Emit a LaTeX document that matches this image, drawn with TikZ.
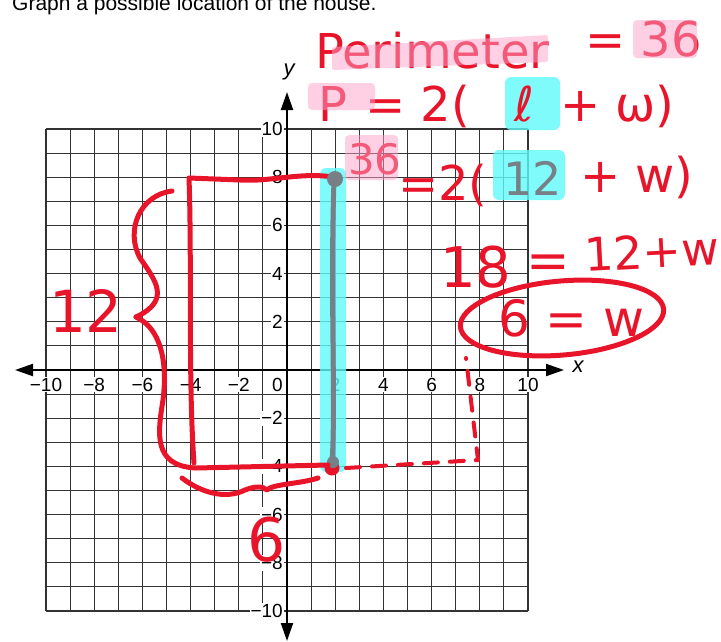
\documentclass[tikz,border=0pt]{standalone}
\usepackage{fontspec}
\setmainfont{Liberation Sans}
\newfontfamily\handfont{DejaVu Sans}
\usetikzlibrary{arrows.meta}
\definecolor{clrInk} {RGB}{232, 20, 42}
\definecolor{clrGrey}{RGB}{118,128,134}
\definecolor{clrPink}{RGB}{255,160,200}
\definecolor{clrCyan}{RGB}{ 96,250,250}
\newcommand\tlab[1]{\ifnum#1<0 −\number\numexpr-#1\relax\else#1\fi}
\newcommand\handsz[1]{\handfont\fontsize{#1}{#1}\selectfont}

\begin{document}
\begin{tikzpicture}[x=1pt, y=-1pt,
  %% ── grid / axis styles ───────────────────────────────────────────────────
  gridln/.style = {line width=1.1pt, color=black!80},
  axis/.style   = {line width=2pt,
                   {Triangle[length=18pt,width=12pt]}-{Triangle[length=18pt,width=12pt]}},
  tick/.style   = {fill=white, inner sep=1pt, font=\fontsize{19}{19}\selectfont},
  %% ── hand-drawn styles ────────────────────────────────────────────────────
  ink/.style    = {line width=5pt, color=clrInk, line cap=round, line join=round},
  inkdash/.style= {ink, line width=4pt, dash pattern=on 14pt off 12pt},
  grey/.style   = {line width=5pt, color=clrGrey, line cap=round},
  hand/.style   = {text=clrInk, inner sep=0pt, anchor=base west, font=\handsz{48}},
  hlpink/.style = {fill=clrPink, fill opacity=0.5, rounded corners=4pt},
  hlcyan/.style = {fill=clrCyan, fill opacity=0.8, rounded corners=6pt},
]
\useasboundingbox (0,0) rectangle (721,641);

%% ═══════════════════════════════════════════════════════════════════════════
%% PRINTED SHEET: title, grid, axes, tick labels
%% ═══════════════════════════════════════════════════════════════════════════
\node[anchor=base west, inner sep=0pt, font=\fontsize{21}{21}\selectfont]
     (title) at (12,10.5) {Graph a possible location of the house.};

\foreach \i in {-10,...,10} {
  \draw[gridln] ({287+24.1*\i},129) -- ({287+24.1*\i},611);
  \draw[gridln] (46,{370+24.1*\i}) -- (528,{370+24.1*\i});
}

\coordinate (xw) at (15,370);
\coordinate (xe) at (564,370);
\coordinate (yn) at (287,92);
\coordinate (ys) at (287,641);
\draw[axis] (xw) -- (xe);
\draw[axis] (ys) -- (yn);
\node[font=\itshape\fontsize{22}{22}\selectfont] (xlab) at (578,367) {x};
\node[font=\itshape\fontsize{22}{22}\selectfont] (ylab) at (289,72)  {y};

\foreach \i [count=\k] in {-10,-8,-6,-4,-2,2,4,6,8,10} {
  \node[tick, anchor=base] (xt\k) at ({287+24.1*\i},391) {\tlab{\i}};
  \node[tick, anchor=east] (yt\k) at (284,{370-24.1*\i})  {\tlab{\i}};
}
\node[tick, anchor=base east] (orig) at (284,391) {0};

%% ═══════════════════════════════════════════════════════════════════════════
%% INK: highlights behind the writing
%% ═══════════════════════════════════════════════════════════════════════════
\fill[hlcyan] (320,168) rectangle (346,472);
\fill[hlcyan] (505,77)  rectangle (560,130);
\fill[hlcyan] (493,150) rectangle (565,200);

%% ── house: side x=2 (grey), the rest in red ──────────────────────────────
\draw[ink] (333,177) .. controls (300,172) and (270,182) .. (240,180)
           -- (189,178) .. controls (192,260) and (188,380) .. (194,463);
\draw[grey] (334,180) .. controls (330,300) and (336,400) .. (332,464);
\fill[clrGrey] (335,179) circle (8);
\fill[clrInk]  (332,468) circle (7.5);
\fill[clrGrey] (333,462) circle (6);

%% ── braces: 12 along the side, 6 along the bottom ────────────────────────
\draw[ink] (172,191) .. controls (140,195) and (125,230) .. (140,258)
           .. controls (155,280) and (172,300) .. (136,317);
\draw[ink] (136,317) .. controls (160,328) and (168,360) .. (163,400)
           .. controls (158,432) and (152,466) .. (196,468) -- (328,465);
\draw[ink] (182,478) .. controls (200,492) and (225,500) .. (245,490)
           .. controls (255,486) and (263,486) .. (267,490)
           .. controls (272,484) and (300,484) .. (318,478);

%% ── dashed guess for the other corner ────────────────────────────────────
\coordinate (dA) at (346,468);
\coordinate (dB) at (478,460);
\coordinate (dC) at (466,358);
\draw[inkdash] (dA) -- (dB) -- (dC);

%% ═══════════════════════════════════════════════════════════════════════════
%% INK: the working, line by line
%% ═══════════════════════════════════════════════════════════════════════════
\node[hand] (perim)  at (315,68)  {Perimeter};
\node[hand] (perimv) at (585,56)  {= 36};

\node[hand] (pP)     at (318,121) {P};
\node[hand] (pEq)    at (365,121) {= 2(};
\node[hand] (pL)     at (514,121) {ℓ};
\node[hand] (pW)     at (560,121) {+ ω)};

\node[hand, font=\handsz{42}] (s36) at (348,174) {36};
\node[hand] (sEq)    at (398,200) {=2(};
\node[hand, font=\handsz{46}, text=clrGrey] (s12) at (503,195) {12};
\node[hand] (sW)     at (580,192) {+ w)};

\node[hand, font=\handsz{56}] (e18) at (440,287) {18};
\node[hand, font=\handsz{52}] (eEq) at (526,278) {=};
\node[hand, font=\handsz{46}, rotate=3] (eW) at (585,272) {12+w};

\node[hand, font=\handsz{50}] (wid) at (498,336) {6 = w};
\draw[ink] (562,318) ellipse [x radius=102, y radius=37, rotate=5];

\node[hand, font=\handsz{58}, anchor=center] (len) at (86,311)  {12};
\node[hand, font=\handsz{60}, anchor=center] (six) at (267,540) {6};

%% ── pink highlights over the writing ─────────────────────────────────────
\fill[hlpink, rounded corners=2pt] (332,47) -- (548,35) -- (548,62) -- (332,70) -- cycle;
\fill[hlpink] (633,20)  rectangle (697,58);
\fill[hlpink] (308,83)  rectangle (375,110);
\fill[hlpink] (345,135) rectangle (398,180);

\end{tikzpicture}
\end{document}
